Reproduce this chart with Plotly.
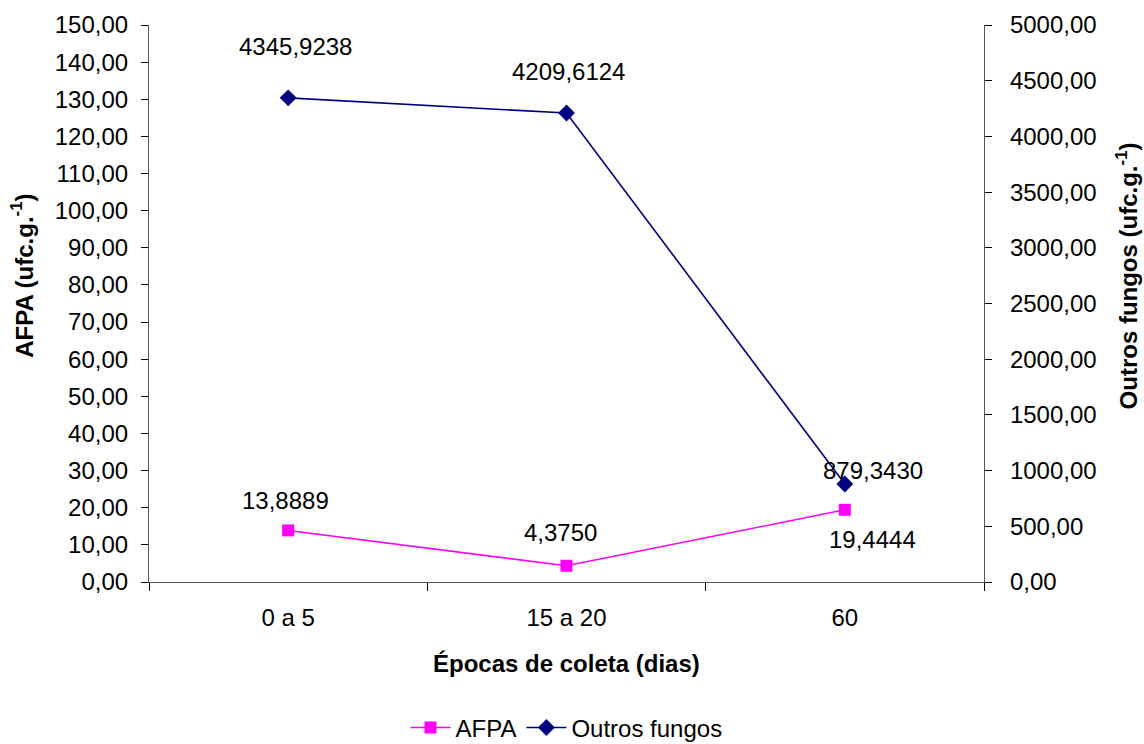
import plotly.graph_objects as go

categories = ["0 a 5", "15 a 20", "60"]
afpa = [13.8889, 4.3750, 19.4444]
outros = [4345.9238, 4209.6124, 879.3430]
left_ticks = list(range(0, 151, 10))
right_ticks = list(range(0, 5001, 500))

# label offsets (px) for data labels
afpa_off = [(-3, 30), (-6, 33), (28, -30)]
outros_off = [(7, 51), (2, 42), (28, 14)]

FONT = "Liberation Sans, Arial, sans-serif"
FS = 24
AX = "#555555"

def fmt(v):
    return f"{v:.4f}".replace(".", ",")

fig = go.Figure()
fig.add_trace(go.Scatter(
    x=categories, y=afpa, name="AFPA", mode="lines+markers",
    line=dict(color="#FF00FF", width=1.6),
    marker=dict(symbol="square", size=12, color="#FF00FF"),
    xaxis="x", yaxis="y"))
fig.add_trace(go.Scatter(
    x=categories, y=outros, name="Outros fungos", mode="lines+markers",
    line=dict(color="#000080", width=1.6),
    marker=dict(symbol="diamond", size=13, color="#000080"),
    xaxis="x", yaxis="y2"))

ann = []
for i, (v, (dx, dy)) in enumerate(zip(afpa, afpa_off)):
    ann.append(dict(x=i, y=v, xref="x", yref="y", text=fmt(v), showarrow=False,
                    xshift=dx, yshift=dy, font=dict(size=FS, color="black", family=FONT)))
for i, (v, (dx, dy)) in enumerate(zip(outros, outros_off)):
    ann.append(dict(x=i, y=v, xref="x", yref="y2", text=fmt(v), showarrow=False,
                    xshift=dx, yshift=dy, font=dict(size=FS, color="black", family=FONT)))

ann.append(dict(x=0.5, y=-0.147, xref="paper", yref="paper", text="<b>Épocas de coleta (dias)</b>",
                showarrow=False, xanchor="center", yanchor="middle",
                font=dict(size=FS, color="black", family=FONT)))
ann.append(dict(x=-0.152, y=0.55, xref="paper", yref="paper", text="<b>AFPA (ufc.g.<sup>-1</sup>)</b>",
                showarrow=False, textangle=-90, xanchor="center", yanchor="middle",
                font=dict(size=FS, color="black", family=FONT)))
ann.append(dict(x=1.171, y=0.55, xref="paper", yref="paper", text="<b>Outros fungos (ufc.g.<sup>-1</sup>)</b>",
                showarrow=False, textangle=-90, xanchor="center", yanchor="middle",
                font=dict(size=FS, color="black", family=FONT)))

tickfont = dict(size=FS, color="black", family=FONT)

fig.update_layout(
    width=1144, height=744,
    margin=dict(l=149, r=160, t=25, b=162, autoexpand=False),
    paper_bgcolor="white", plot_bgcolor="white",
    separators=",.",
    showlegend=True,
    legend=dict(orientation="h", x=0.5, xanchor="center", y=-0.262, yanchor="middle",
                font=dict(size=FS, color="black", family=FONT), itemwidth=40),
    annotations=ann,
    xaxis=dict(type="category", range=[-0.5, 2.5], showgrid=False, showline=True,
               linecolor=AX, linewidth=1.2, ticks="outside", tickson="boundaries",
               ticklen=8, tickcolor="black", tickfont=tickfont, ticklabelstandoff=14,
               zeroline=False, fixedrange=True),
    xaxis2=dict(overlaying="x", range=[-0.5, 2.5], showgrid=False, showline=False,
                ticks="inside", tickmode="array", tickvals=[-0.5, 0.5, 1.5, 2.5],
                ticklen=7, tickcolor="black", showticklabels=False, zeroline=False,
                anchor="y"),
    yaxis=dict(range=[0, 150], tickmode="array", tickvals=left_ticks, tickformat=".2f",
               showgrid=False, showline=True, linecolor=AX, linewidth=1.2,
               ticks="outside", ticklen=7, tickcolor="black", tickfont=tickfont,
               ticklabelstandoff=8, zeroline=False),
    yaxis2=dict(range=[0, 5000], tickmode="array", tickvals=right_ticks, tickformat=".2f",
                overlaying="y", side="right", anchor="x",
                showgrid=False, showline=True, linecolor=AX, linewidth=1.2,
                ticks="outside", ticklen=7, tickcolor="black", tickfont=tickfont,
                ticklabelstandoff=13, zeroline=False),
    yaxis3=dict(range=[0, 150], tickmode="array", tickvals=left_ticks, overlaying="y",
                side="left", anchor="x", ticks="inside", ticklen=7, tickcolor="black",
                showticklabels=False, showgrid=False, showline=False, zeroline=False),
    yaxis4=dict(range=[0, 5000], tickmode="array", tickvals=right_ticks, overlaying="y",
                side="right", anchor="x", ticks="inside", ticklen=7, tickcolor="black",
                showticklabels=False, showgrid=False, showline=False, zeroline=False),
)

fig.write_html("out.html")
